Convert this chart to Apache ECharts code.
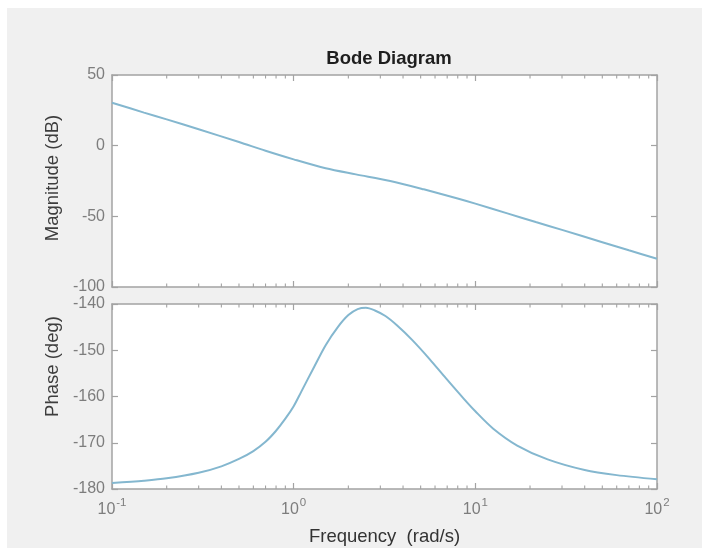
<!DOCTYPE html>
<html>
<head>
<meta charset="utf-8">
<title>Bode Diagram</title>
<script src="https://cdn.jsdelivr.net/npm/echarts@6/dist/echarts.min.js"></script>
<style>
  html, body { margin: 0; padding: 0; background: #ffffff; }
  #chart { width: 702px; height: 548px; }
</style>
</head>
<body>
<div id="chart"></div>
<script>
// Magnitude response samples (rad/s, dB)
const magFreq = [0.1, 0.15, 0.2, 0.3, 0.5, 0.7, 1.0, 1.5, 2.2, 3.4, 5.2, 7.9, 10, 15, 21.5, 30, 50, 70, 100];
const magDb   = [30.4, 23.4, 18.6, 11.6, 2.6, -3.6, -9.7, -16.0, -20.3, -25.0, -30.9, -37.2, -41.0, -47.9, -54.0, -59.6, -68.3, -74.0, -80.0];

// Phase response samples (rad/s, deg)
const phaseFreq = [0.1, 0.15, 0.2, 0.3, 0.4, 0.5, 0.6, 0.7, 0.8, 0.9, 1.0, 1.1, 1.3, 1.5, 1.75, 2.0, 2.25, 2.5, 2.8, 3.2, 3.7, 4.5, 5.6, 6.9, 8.6, 10, 12.5, 17, 25, 40, 60, 100];
const phaseDeg  = [-178.7, -178.2, -177.7, -176.5, -175.1, -173.5, -171.8, -169.8, -167.4, -164.8, -162.1, -159.0, -153.5, -148.9, -145.0, -142.4, -141.1, -140.8, -141.4, -142.6, -144.6, -147.8, -151.9, -156.1, -160.4, -163.2, -166.9, -170.6, -173.6, -175.9, -177.0, -177.9];

// Axis ranges and ticks
const freqRange = [0.1, 100];
const magRange = [-100, 50];
const magStep = 50;
const phaseRange = [-180, -140];
const phaseStep = 10;
const minorFreqTicks = [0.2, 0.3, 0.4, 0.5, 0.6, 0.7, 0.8, 0.9, 2, 3, 4, 5, 6, 7, 8, 9, 20, 30, 40, 50, 60, 70, 80, 90];

const FONT = '"Liberation Sans", Arial, Helvetica, sans-serif';
const FRAME = '#a3a3a3';
const TICK_TEXT = '#7d7d7d';
const LINE = '#84b7cf';

const zip = (xs, ys) => xs.map((x, i) => [x, ys[i]]);

function xAxisPair(gridIndex, withLabels) {
  const base = {
    type: 'log', logBase: 10, gridIndex,
    min: freqRange[0], max: freqRange[1],
    axisLine: { show: true, onZero: false, lineStyle: { color: FRAME, width: 1.5 } },
    axisTick: { show: true, inside: true, length: 6, lineStyle: { color: FRAME, width: 1.2 } },
    splitLine: { show: false }, minorTick: { show: false }, minorSplitLine: { show: false }
  };
  const bottom = Object.assign({}, base, {
    position: 'bottom',
    axisLabel: withLabels ? {
      show: true, margin: 7,
      formatter: v => '{b|10}{s|' + Math.round(Math.log10(v)) + '}',
      rich: {
        b: { fontFamily: FONT, fontSize: 16, color: TICK_TEXT, verticalAlign: 'bottom', lineHeight: 22 },
        s: { fontFamily: FONT, fontSize: 11.5, color: TICK_TEXT, verticalAlign: 'bottom', lineHeight: 22, padding: [0, 0, 9, 1] }
      }
    } : { show: false },
    name: withLabels ? 'Frequency  (rad/s)' : '',
    nameLocation: 'middle', nameGap: 38,
    nameTextStyle: { fontFamily: FONT, fontSize: 18.5, color: '#333333' }
  });
  const top = Object.assign({}, base, { position: 'top', axisLabel: { show: false } });
  return [bottom, top];
}

function yAxisPair(gridIndex, range, step, title, shift) {
  const base = {
    type: 'value', gridIndex,
    min: range[0], max: range[1], interval: step,
    axisLine: { show: true, onZero: false, lineStyle: { color: FRAME, width: 1.5 } },
    axisTick: { show: true, inside: true, length: 6, lineStyle: { color: FRAME, width: 1.2 } },
    splitLine: { show: false }
  };
  const left = Object.assign({}, base, {
    position: 'left',
    axisLabel: { show: true, margin: 7, fontFamily: FONT, fontSize: 16, color: TICK_TEXT },
    name: title, nameLocation: 'middle', nameRotate: 90, nameGap: 50,
    nameTextStyle: { fontFamily: FONT, fontSize: 18.5, color: '#3d3d3d', padding: shift }
  });
  const right = Object.assign({}, base, { position: 'right', axisLabel: { show: false }, name: '' });
  return [left, right];
}

// Minor decade ticks (2..9) drawn inward from top and bottom edges of a grid
function minorTickSeries(gridIndex, yLeft) {
  return {
    type: 'custom', xAxisIndex: gridIndex * 2, yAxisIndex: gridIndex * 2,
    silent: true, clip: false, z: 5,
    data: minorFreqTicks.map(f => [f, yLeft]),
    renderItem: (params, api) => {
      const cs = params.coordSys;
      const x = api.coord([api.value(0), api.value(1)])[0];
      const style = { stroke: FRAME, lineWidth: 1.1 };
      return {
        type: 'group',
        children: [
          { type: 'line', shape: { x1: x, y1: cs.y + cs.height, x2: x, y2: cs.y + cs.height - 3.5 }, style },
          { type: 'line', shape: { x1: x, y1: cs.y, x2: x, y2: cs.y + 3.5 }, style }
        ]
      };
    }
  };
}

const [x0b, x0t] = xAxisPair(0, false);
const [x1b, x1t] = xAxisPair(1, true);
const [y0l, y0r] = yAxisPair(0, magRange, magStep, 'Magnitude (dB)', [0, 0, 0, 6]);
const [y1l, y1r] = yAxisPair(1, phaseRange, phaseStep, 'Phase (deg)', [0, 0, 0, 60]);

const chart = echarts.init(document.getElementById('chart'), null, { renderer: 'canvas' });
chart.setOption({
  backgroundColor: '#ffffff',
  animation: false,
  graphic: [
    { type: 'rect', z: -10, silent: true, shape: { x: 7, y: 8, width: 695, height: 540 }, style: { fill: '#f0f0f0' } }
  ],
  title: {
    text: 'Bode Diagram', left: 384, top: 44, textAlign: 'center',
    textStyle: { fontFamily: FONT, fontSize: 18.5, fontWeight: 'bold', color: '#1e1e1e' }
  },
  grid: [
    { left: 112, top: 75, width: 545, height: 212, show: true, backgroundColor: '#ffffff', borderWidth: 0 },
    { left: 112, top: 304, width: 545, height: 185, show: true, backgroundColor: '#ffffff', borderWidth: 0 }
  ],
  xAxis: [x0b, x0t, x1b, x1t],
  yAxis: [y0l, y0r, y1l, y1r],
  series: [
    {
      name: 'Magnitude', type: 'line', xAxisIndex: 0, yAxisIndex: 0,
      data: zip(magFreq, magDb), showSymbol: false, smooth: 0.3,
      lineStyle: { color: LINE, width: 2 }, z: 3
    },
    {
      name: 'Phase', type: 'line', xAxisIndex: 2, yAxisIndex: 2,
      data: zip(phaseFreq, phaseDeg), showSymbol: false, smooth: 0.3,
      lineStyle: { color: LINE, width: 2 }, z: 3
    },
    minorTickSeries(0, magRange[0]),
    minorTickSeries(1, phaseRange[0])
  ]
});
</script>
</body>
</html>
